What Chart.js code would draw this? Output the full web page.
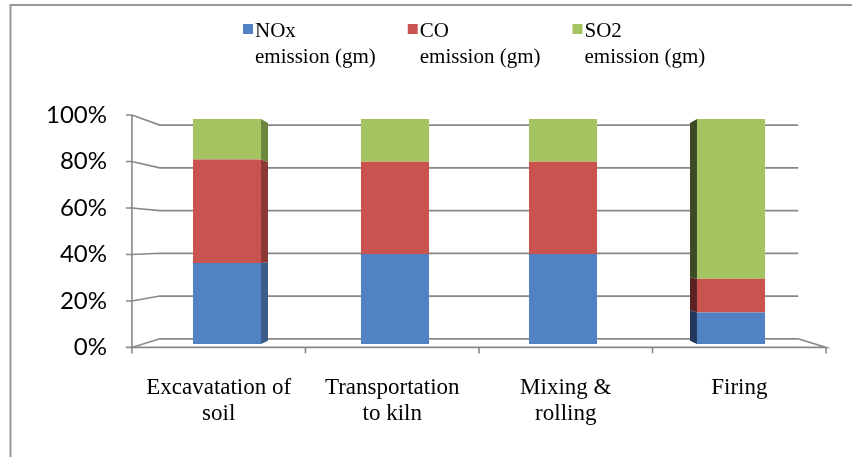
<!DOCTYPE html>
<html>
<head>
<meta charset="utf-8">
<title>Emission share by process step</title>
<script src="https://cdn.jsdelivr.net/npm/chart.js@4.4.1/dist/chart.umd.min.js"></script>
<style>
  html, body { margin: 0; padding: 0; background: #ffffff; }
  #wrap { position: relative; width: 852px; height: 457px; }
</style>
</head>
<body>
<div id="wrap"><canvas id="chart" width="852" height="457"></canvas></div>
<script>
// ---- data ----
const categories = [
  ['Excavatation of', 'soil'],
  ['Transportation', 'to kiln'],
  ['Mixing &', 'rolling'],
  ['Firing']
];
const seriesNames = ['NOx\nemission (gm)', 'CO\nemission (gm)', 'SO2\nemission (gm)'];
const noxShare = [36, 40, 40, 14];
const coShare  = [46, 41, 41, 15];
const so2Share = [18, 19, 19, 71];
const percentTicks = [0, 20, 40, 60, 80, 100];

// ---- look ----
const faceColors      = ['#5183C3', '#C9534F', '#A4C361'];
const sideColorsRight = ['#3A5C8A', '#8C3835', '#6C873F'];
const sideColorsLeft  = ['#22375A', '#5A2220', '#3D4B25'];
const GRID_COLOR = '#888888';
const SERIF = '"Liberation Serif", "Times New Roman", serif';

// Perspective of the 3-D box: vanishing point (category index / percent value)
// and relative depth of the front axis plane, the bars and the back wall.
const VIEW_INDEX = 1.5;
const VIEW_VALUE = 46;
const DEPTH_FRONT = 1.033;
const DEPTH_BAR = 0.968;
const DEPTH_WALL = 0.95;

const nCat = categories.length;
const frontXMin = VIEW_INDEX + (-0.5 - VIEW_INDEX) / DEPTH_FRONT;
const frontXMax = VIEW_INDEX + (nCat - 0.5 - VIEW_INDEX) / DEPTH_FRONT;
const frontYMin = VIEW_VALUE + (0 - VIEW_VALUE) / DEPTH_FRONT;
const frontYMax = VIEW_VALUE + (100 - VIEW_VALUE) / DEPTH_FRONT;

function viewPoint(chart) {
  const a = chart.chartArea;
  const catW = (a.right - a.left) / nCat;
  return {
    cx: a.left + (VIEW_INDEX + 0.5) * catW,
    cy: chart.scales.y.getPixelForValue(VIEW_VALUE)
  };
}
function project(vp, x, y, k) {
  return [vp.cx + (x - vp.cx) * k, vp.cy + (y - vp.cy) * k];
}

// Outer frame of the figure (top and left rules)
const framePlugin = {
  id: 'frame',
  beforeDraw(chart) {
    const ctx = chart.ctx;
    ctx.save();
    ctx.strokeStyle = '#999999';
    ctx.lineWidth = 2;
    ctx.beginPath();
    ctx.moveTo(10.5, 457);
    ctx.lineTo(10.5, 5);
    ctx.lineTo(852, 5);
    ctx.stroke();
    ctx.restore();
  }
};

// Back wall gridlines, left wall, floor edges and axis ticks of the 3-D box
const boxPlugin = {
  id: 'box3d',
  beforeDatasetsDraw(chart) {
    const ctx = chart.ctx;
    const a = chart.chartArea;
    const yS = chart.scales.y;
    const vp = viewPoint(chart);
    ctx.save();
    ctx.strokeStyle = GRID_COLOR;
    ctx.lineWidth = 1.6;
    const y0 = yS.getPixelForValue(0);
    const y100 = yS.getPixelForValue(100);
    percentTicks.forEach(v => {
      const yb = yS.getPixelForValue(v);
      const [bx1, by] = project(vp, a.left, yb, DEPTH_WALL);
      const [bx2] = project(vp, a.right, yb, DEPTH_WALL);
      const [fx, fy] = project(vp, a.left, yb, DEPTH_FRONT);
      ctx.beginPath();
      ctx.moveTo(fx - 6, fy);
      ctx.lineTo(fx, fy);
      ctx.lineTo(bx1, by);
      ctx.lineTo(bx2, by);
      ctx.stroke();
    });
    // front vertical axis, front floor edge and right floor edge
    const [ax, ayBot] = project(vp, a.left, y0, DEPTH_FRONT);
    const [, ayTop] = project(vp, a.left, y100, DEPTH_FRONT);
    const [rx, ry] = project(vp, a.right, y0, DEPTH_FRONT);
    const [wx, wy] = project(vp, a.right, y0, DEPTH_WALL);
    ctx.beginPath();
    ctx.moveTo(ax, ayTop);
    ctx.lineTo(ax, ayBot);
    ctx.lineTo(rx, ry);
    ctx.lineTo(wx, wy);
    ctx.stroke();
    // category tick marks on the front floor edge
    const catW = (a.right - a.left) / nCat;
    for (let i = 0; i <= nCat; i++) {
      const [tx, ty] = project(vp, a.left + i * catW, y0, DEPTH_FRONT);
      ctx.beginPath();
      ctx.moveTo(tx, ty);
      ctx.lineTo(tx, ty + 6);
      ctx.stroke();
    }
    ctx.restore();
  },
  // receding side faces of every bar segment
  afterDatasetsDraw(chart) {
    const ctx = chart.ctx;
    const vp = viewPoint(chart);
    ctx.save();
    chart.data.datasets.forEach((ds, di) => {
      const meta = chart.getDatasetMeta(di);
      meta.data.forEach(bar => {
        const p = bar.getProps(['x', 'y', 'base', 'width'], true);
        const left = p.x - p.width / 2;
        const right = p.x + p.width / 2;
        const top = Math.min(p.y, p.base);
        const bottom = Math.max(p.y, p.base);
        let edge, color;
        if (right < vp.cx) { edge = right; color = sideColorsRight[di]; }
        else if (left > vp.cx) { edge = left; color = sideColorsLeft[di]; }
        else return;
        const [bx, bt] = project(vp, edge, top, DEPTH_BAR);
        const [, bb] = project(vp, edge, bottom, DEPTH_BAR);
        if (Math.abs(bx - edge) < 3) return;   // face seen edge-on
        ctx.fillStyle = color;
        ctx.beginPath();
        ctx.moveTo(edge, top);
        ctx.lineTo(bx, bt);
        ctx.lineTo(bx, bb);
        ctx.lineTo(edge, bottom);
        ctx.closePath();
        ctx.fill();
      });
    });
    ctx.restore();
  }
};

// Two-line legend across the top
const legendPlugin = {
  id: 'topLegend',
  afterDraw(chart) {
    const ctx = chart.ctx;
    const a = chart.chartArea;
    ctx.save();
    ctx.font = '21px ' + SERIF;
    ctx.textBaseline = 'alphabetic';
    ctx.textAlign = 'left';
    const items = chart.data.datasets.map(ds => {
      const lines = ds.label.split('\n');
      const w = Math.max(...lines.map(l => ctx.measureText(l).width));
      return { lines, w, color: ds.backgroundColor };
    });
    const gap = 32, boxText = 12;
    const total = items.reduce((s, it) => s + boxText + it.w, 0) + gap * (items.length - 1);
    let x = Math.round((a.left + a.right) / 2 - total / 2) - 5;
    items.forEach(it => {
      ctx.fillStyle = it.color;
      ctx.fillRect(x, 24, 10, 10);
      ctx.fillStyle = '#000000';
      it.lines.forEach((line, li) => ctx.fillText(line, x + boxText, 37 + li * 26));
      x += boxText + it.w + gap;
    });
    ctx.restore();
  }
};

const seriesValues = [noxShare, coShare, so2Share];

new Chart(document.getElementById('chart'), {
  type: 'bar',
  data: {
    labels: categories,
    datasets: seriesNames.map((name, i) => ({
      label: name,
      data: seriesValues[i],
      backgroundColor: faceColors[i],
      borderWidth: 0,
      categoryPercentage: 1.0,
      barPercentage: 0.405
    }))
  },
  options: {
    responsive: false,
    animation: false,
    events: [],
    layout: { padding: { top: 119, right: 37, bottom: 0, left: 0 } },
    plugins: { legend: { display: false }, tooltip: { enabled: false } },
    scales: {
      x: { type: 'category', stacked: true, display: false },
      y: { stacked: true, display: false, min: 0, max: 100 },
      // category labels sit on the front edge of the floor
      xFront: {
        type: 'linear',
        position: 'bottom',
        offset: false,
        beginAtZero: false,
        min: frontXMin,
        max: frontXMax,
        grid: { display: false, drawTicks: false, offset: false },
        border: { display: false },
        afterBuildTicks: s => { s.ticks = categories.map((c, i) => ({ value: i })); },
        afterFit: s => { s.height = 113; },
        ticks: {
          autoSkip: false, maxRotation: 0, padding: 31, color: '#000000',
          font: { family: SERIF, size: 23, lineHeight: 1.13 },
          callback: (v, i) => categories[i]
        }
      },
      // percent labels sit on the front vertical edge
      yFront: {
        type: 'linear',
        position: 'left',
        offset: false,
        beginAtZero: false,
        min: frontYMin,
        max: frontYMax,
        grid: { display: false, drawTicks: false },
        border: { display: false },
        afterBuildTicks: s => { s.ticks = percentTicks.map(v => ({ value: v })); },
        afterFit: s => { s.width = 143; },
        ticks: {
          autoSkip: false, padding: 36, color: '#000000',
          font: { family: 'Lato, "Liberation Sans", sans-serif', size: 24 },
          callback: v => v + '%'
        }
      }
    }
  },
  plugins: [framePlugin, boxPlugin, legendPlugin]
});
</script>
</body>
</html>
